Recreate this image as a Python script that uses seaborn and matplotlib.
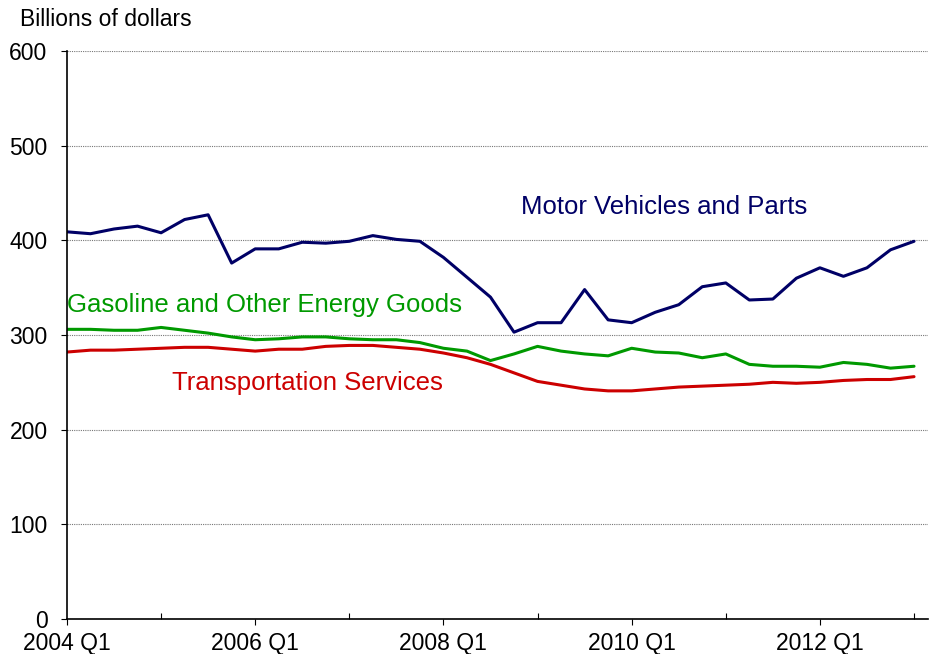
import numpy as np
import pandas as pd
import matplotlib
matplotlib.use("Agg")
import matplotlib.pyplot as plt
import seaborn as sns

# quarterly, 2004 Q1 .. 2013 Q1
quarters = [f"{y} Q{q}" for y in range(2004, 2014) for q in range(1, 5)][:37]

motor_vehicles = [409, 407, 412, 415, 408, 422, 427, 376, 391, 391, 398, 397, 399,
                  405, 401, 399, 382, 361, 340, 303, 313, 313, 348, 316, 313, 324,
                  332, 351, 355, 337, 338, 360, 371, 362, 371, 390, 399]
gasoline = [306, 306, 305, 305, 308, 305, 302, 298, 295, 296, 298, 298, 296,
            295, 295, 292, 286, 283, 273, 280, 288, 283, 280, 278, 286, 282,
            281, 276, 280, 269, 267, 267, 266, 271, 269, 265, 267]
transport = [282, 284, 284, 285, 286, 287, 287, 285, 283, 285, 285, 288, 289,
             289, 287, 285, 281, 276, 269, 260, 251, 247, 243, 241, 241, 243,
             245, 246, 247, 248, 250, 249, 250, 252, 253, 253, 256]

series_names = ["Motor Vehicles and Parts", "Gasoline and Other Energy Goods",
                "Transportation Services"]
colors = {"Motor Vehicles and Parts": "#000066",
          "Gasoline and Other Energy Goods": "#009900",
          "Transportation Services": "#cc0000"}

df = pd.DataFrame({"q": np.arange(len(quarters)),
                   series_names[0]: motor_vehicles,
                   series_names[1]: gasoline,
                   series_names[2]: transport})
long_df = df.melt(id_vars="q", var_name="series", value_name="value")

sns.set_style("white")
plt.rcParams['font.family'] = ['Liberation Sans', 'DejaVu Sans']

fig = plt.figure(figsize=(9.3, 6.54), dpi=100)
ax = fig.add_axes([0.072, 0.0535, 0.926, 0.8685])

ax.yaxis.grid(True, linestyle=(0, (1, 1)), color="#777777", linewidth=0.8)
ax.set_axisbelow(True)

sns.lineplot(data=long_df, x="q", y="value", hue="series", palette=colors,
             linewidth=2.2, legend=False, ax=ax)

ax.set_xlim(0, 36.6)
ax.set_ylim(0, 600)
ax.set_yticks(range(0, 601, 100))
ax.set_xticks(range(0, 37, 8))
ax.set_xticklabels([quarters[i] for i in range(0, 37, 8)])
ax.set_xticks(range(4, 37, 8), minor=True)
ax.tick_params(axis="x", which="major", direction="out", length=4.5, width=0.8,
               labelsize=16.5, pad=5, bottom=True, colors="black")
ax.tick_params(axis="x", which="minor", direction="in", length=4, width=0.8,
               bottom=True, colors="black")
ax.tick_params(axis="y", direction="out", length=4, width=0.8, labelsize=16.5,
               pad=10, left=True, colors="black")
ax.set_xlabel("")
ax.set_ylabel("")

for s in ["top", "right"]:
    ax.spines[s].set_visible(False)
for s in ["left", "bottom"]:
    ax.spines[s].set_color("black")
    ax.spines[s].set_linewidth(1.2)

ax.text(19.3, 435, series_names[0], color=colors[series_names[0]],
        fontsize=18.5, va="center", ha="left")
ax.text(0.0, 332, series_names[1], color=colors[series_names[1]],
        fontsize=18.5, va="center", ha="left")
ax.text(4.45, 249, series_names[2], color=colors[series_names[2]],
        fontsize=18.5, va="center", ha="left")

fig.text(20 / 930, 1 - 20 / 654, "Billions of dollars", fontsize=16.5,
         ha="left", va="center", color="black")

fig.savefig("out.png", dpi=100)
